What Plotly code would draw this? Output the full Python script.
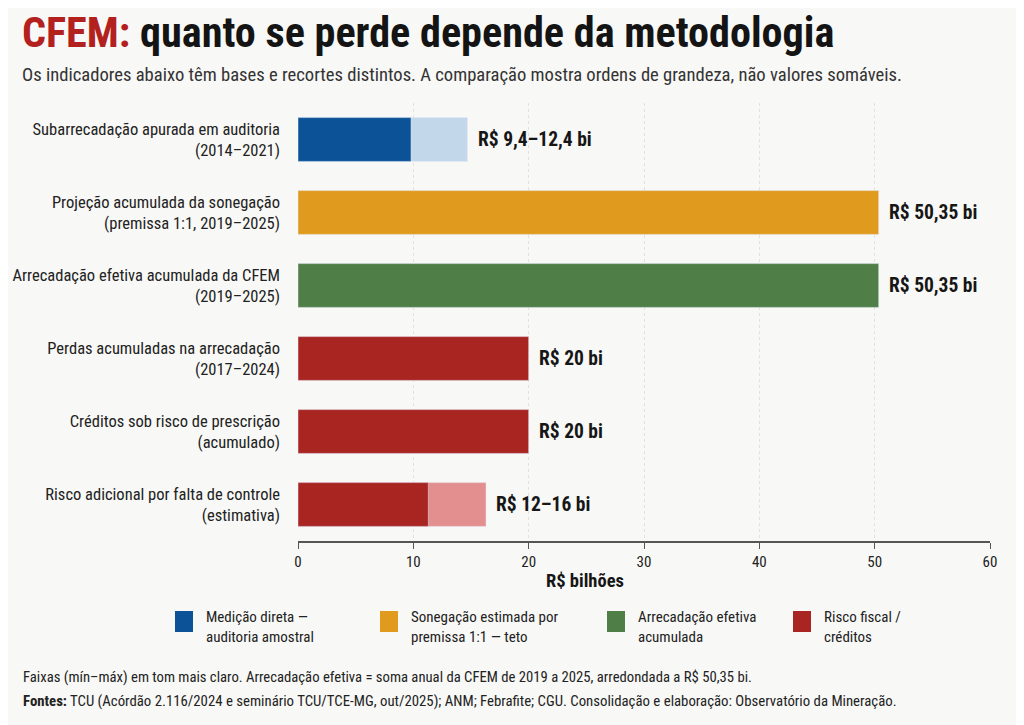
import plotly.graph_objects as go

# dados (R$ bilhoes)
categorias = [
    "Subarrecadação apurada em auditoria<br>(2014–2021)",
    "Projeção acumulada da sonegação<br>(premissa 1:1, 2019–2025)",
    "Arrecadação efetiva acumulada da CFEM<br>(2019–2025)",
    "Perdas acumuladas na arrecadação<br>(2017–2024)",
    "Créditos sob risco de prescrição<br>(acumulado)",
    "Risco adicional por falta de controle<br>(estimativa)",
]
valor_min = [9.8, 50.35, 50.35, 20, 20, 11.3]
valor_max = [14.7, 50.35, 50.35, 20, 20, 16.3]
rotulos = ["R$ 9,4–12,4 bi", "R$ 50,35 bi", "R$ 50,35 bi", "R$ 20 bi", "R$ 20 bi", "R$ 12–16 bi"]
grupo = [0, 1, 2, 3, 3, 3]

grupos_nome = ["Medição direta —<br>auditoria amostral",
               "Sonegação estimada por<br>premissa 1:1 — teto",
               "Arrecadação efetiva<br>acumulada",
               "Risco fiscal /<br>créditos"]
cor_forte = ["#0B5297", "#E09B1E", "#4F7E46", "#A82522"]
cor_clara = ["#C3D7EA", "#F2CF8A", "#A9C7A1", "#E38F8F"]

COND = "Roboto Condensed, Liberation Sans Narrow, Roboto, sans-serif"
OFF = 8  # margem do body na pagina
W, H = 1024, 725
L, R, T, B = 298 - OFF, 1024 - 990 + OFF, 103 - OFF, 725 - 541 + OFF


def px(x, y):
    # converte pixel da pagina para coordenadas paper
    x, y = x - OFF, y - OFF
    return (x - L) / (W - L - R), (H - B - y) / (H - T - B)


def texto(x, y, s, size, weight="normal", color="#222222", anchor="left"):
    xp, yp = px(x, y)
    fig.add_annotation(xref="paper", yref="paper", x=xp, y=yp, xanchor=anchor, yanchor="middle",
                       showarrow=False, text=s, align="left", borderpad=0,
                       font=dict(family=COND, size=size, color=color, weight=weight))


fig = go.Figure()

# faixa (mín–máx) em tom claro
for g in range(4):
    idx = [i for i in range(len(categorias)) if grupo[i] == g and valor_max[i] > valor_min[i]]
    if idx:
        fig.add_trace(go.Bar(
            y=[categorias[i] for i in idx], x=[valor_max[i] for i in idx],
            orientation="h", marker_color=cor_clara[g], showlegend=False, width=0.6,
        ))

for g in range(4):
    idx = [i for i in range(len(categorias)) if grupo[i] == g]
    fig.add_trace(go.Bar(
        y=[categorias[i] for i in idx], x=[valor_min[i] for i in idx],
        orientation="h", marker_color=cor_forte[g], name=grupos_nome[g],
        showlegend=False, width=0.6,
    ))

for i, c in enumerate(categorias):
    fig.add_annotation(x=valor_max[i], y=c, text=rotulos[i], showarrow=False,
                       xanchor="left", xshift=8,
                       font=dict(family=COND, size=19.5, color="#161616", weight="bold"))

texto(21, 33, "<span style='color:#B3211F'>CFEM:</span> quanto se perde depende da metodologia",
      42.2, "bold", "#141414")
texto(21, 75, "Os indicadores abaixo têm bases e recortes distintos. A comparação mostra ordens de grandeza, não valores somáveis.",
      18.6, color="#333333")
texto(585, 581, "R$ bilhões", 18.5, "bold", "#161616", anchor="center")

# legenda manual
leg_x = [175, 380, 607, 793]
for g in range(4):
    sx0, sy0 = px(leg_x[g], 611)
    sx1, sy1 = px(leg_x[g] + 18, 632)
    fig.add_shape(type="rect", xref="paper", yref="paper", x0=sx0, y0=sy0, x1=sx1, y1=sy1,
                  fillcolor=cor_forte[g], line_width=0)
    texto(leg_x[g] + 30, 627, grupos_nome[g], 15)

texto(22, 677, "Faixas (mín–máx) em tom mais claro. Arrecadação efetiva = soma anual da CFEM de 2019 a 2025, arredondada a R$ 50,35 bi.",
      14.7)
texto(22, 701, "<b>Fontes:</b> TCU (Acórdão 2.116/2024 e seminário TCU/TCE-MG, out/2025); ANM; Febrafite; CGU. Consolidação e elaboração: Observatório da Mineração.",
      14.8)

fig.update_layout(
    width=W, height=H, barmode="overlay",
    margin=dict(l=L, r=R, t=T, b=B, autoexpand=False),
    paper_bgcolor="#F8F8F6", plot_bgcolor="#F8F8F6",
    showlegend=False,
)
fig.update_xaxes(range=[0, 60], dtick=10, showgrid=True, gridcolor="#E2E2E2", griddash="dot",
                 zeroline=False, showline=True, linecolor="#555555", linewidth=1.5,
                 ticks="outside", ticklen=6, tickcolor="#555555", automargin=False,
                 tickfont=dict(family=COND, size=15, color="#222222"))
fig.update_yaxes(categoryorder="array", categoryarray=categorias, autorange="reversed",
                 showgrid=False, ticks="", ticklabelstandoff=17, automargin=False,
                 tickfont=dict(family=COND, size=16.5, color="#222222"))

fig.write_html("out.html")
